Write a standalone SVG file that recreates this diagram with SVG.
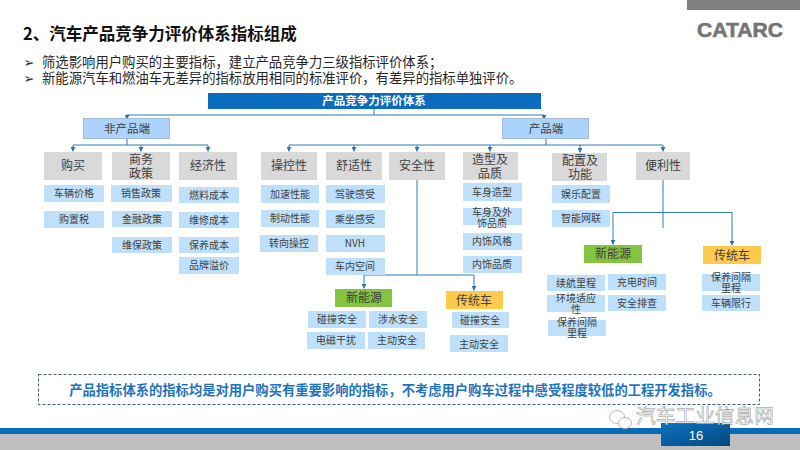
<svg xmlns="http://www.w3.org/2000/svg" width="800" height="450" viewBox="0 0 800 450">
<style>
text{font-family:"Noto Sans CJK SC","Liberation Sans",sans-serif;fill:#404040;text-anchor:middle}
.l1 rect{fill:#acd3fb;stroke:#a3bcd6;stroke-width:1}
.l1 text{font-size:11.5px}
.cat rect{fill:#d9d9d9}
.cat text{font-size:12px}
.c rect{fill:#bfe0fb}
.c text{font-size:10px}
.g rect{fill:#85c441}
.y rect{fill:#ffc94d}
.g text,.y text{font-size:12px}
.tl{text-anchor:start}
.b{font-size:13.35px;fill:#262626}
.bu{font-family:"DejaVu Sans",sans-serif;font-size:13px;fill:#262626}
.cn{fill:none;stroke:#2e7db8;stroke-width:1}
.ar{marker-end:url(#a)}
</style>
<defs>
<marker id="a" markerUnits="userSpaceOnUse" markerWidth="5" markerHeight="4.500" refX="2.500" refY="4.500" orient="0" viewBox="0 0 5 4.500"><path d="M0,0H5L2.500,4.500Z" fill="#2874ad"/></marker>
<linearGradient id="pg" x1="0" y1="0" x2="1" y2="1"><stop offset="0" stop-color="#0b73c0"/><stop offset="1" stop-color="#07477f"/></linearGradient>
</defs>
<rect width="800" height="450" fill="#fff"/>
<rect x="687" y="0" width="113" height="10" fill="#7f7f7f"/>
<text x="740" y="37" textLength="86" lengthAdjust="spacingAndGlyphs" style="font-family:'Liberation Sans',sans-serif;font-weight:700;font-size:21px;fill:#757575;stroke:#757575;stroke-width:0.6">CATARC</text>
<text class="tl" x="23" y="40" style="font-size:16.5px;font-weight:700;fill:#111">2、汽车产品竞争力评价体系指标组成</text>
<text class="bu" x="29" y="67">➢</text>
<text class="tl b" x="42" y="67">筛选影响用户购买的主要指标，建立产品竞争力三级指标评价体系；</text>
<text class="bu" x="29" y="83">➢</text>
<text class="tl b" x="42" y="83">新能源汽车和燃油车无差异的指标放用相同的标准评价，有差异的指标单独评价。</text>

<g id="connectors" class="cn">
<path d="M374,109V115M127,115H544"/>
<path class="ar" d="M127,115V119.500"/><path class="ar" d="M544,115V119.500"/>
<path d="M127,139V145M73,145H208"/>
<path class="ar" d="M73,145V151.500"/><path class="ar" d="M141,145V151.500"/><path class="ar" d="M208,145V151.500"/>
<path d="M546,139V145M289,145H663"/>
<path class="ar" d="M289,145V151.500"/><path class="ar" d="M354,145V151.500"/><path class="ar" d="M417,145V151.500"/><path class="ar" d="M490,145V151.500"/><path class="ar" d="M580,145V152.500"/><path class="ar" d="M663,145V151.500"/>
<path d="M417,180V275M364,275H474"/>
<path class="ar" d="M364,275V288.500"/><path class="ar" d="M474,275V290.500"/>
<path d="M663,180V228M613,212.500H732"/>
<path class="ar" d="M613,212.500V244.500"/><path class="ar" d="M732,212.500V245.500"/>
</g>

<g id="root"><rect x="208" y="93" width="333" height="16" fill="#0a6cbd"/><text x="374" y="105" style="font-size:11.500px;font-weight:700;fill:#fff">产品竞争力评价体系</text></g>
<g id="non-product" class="l1"><rect x="83.500" y="118.500" width="86" height="20"/><text x="127" y="133">非产品端</text></g>
<g id="product" class="l1"><rect x="502.500" y="118.500" width="86" height="20"/><text x="546" y="133">产品端</text></g>

<g id="cat-buy" class="cat"><rect x="44" y="152" width="58" height="28"/><text x="73" y="170">购买</text></g>
<g id="cat-policy" class="cat"><rect x="112" y="152" width="58" height="28"/><text x="141" y="164">商务</text><text x="141" y="177.500">政策</text></g>
<g id="cat-econ" class="cat"><rect x="179" y="152" width="58" height="28"/><text x="208" y="170">经济性</text></g>
<g id="cat-control" class="cat"><rect x="261" y="152" width="56" height="28"/><text x="289" y="170">操控性</text></g>
<g id="cat-comfort" class="cat"><rect x="326" y="152" width="56" height="28"/><text x="354" y="170">舒适性</text></g>
<g id="cat-safety" class="cat"><rect x="389" y="152" width="56" height="28"/><text x="417" y="170">安全性</text></g>
<g id="cat-style" class="cat"><rect x="463" y="152" width="55" height="28"/><text x="490" y="164">造型及</text><text x="490" y="177.500">品质</text></g>
<g id="cat-config" class="cat"><rect x="552" y="153" width="55" height="28"/><text x="580" y="165">配置及</text><text x="580" y="178.500">功能</text></g>
<g id="cat-conv" class="cat"><rect x="636" y="152" width="54" height="28"/><text x="663" y="170">便利性</text></g>

<g id="c1" class="c"><rect x="44" y="185" width="60" height="17"/><text x="74" y="197">车辆价格</text></g>
<g id="c2" class="c"><rect x="44" y="211" width="60" height="17"/><text x="74" y="223">购置税</text></g>
<g id="c3" class="c"><rect x="111" y="185" width="61" height="17"/><text x="141" y="197">销售政策</text></g>
<g id="c4" class="c"><rect x="112" y="211" width="60" height="16"/><text x="142" y="223">金融政策</text></g>
<g id="c5" class="c"><rect x="112" y="237" width="60" height="16"/><text x="142" y="249">维保政策</text></g>
<g id="c6" class="c"><rect x="179" y="187" width="60" height="16"/><text x="209" y="199">燃料成本</text></g>
<g id="c7" class="c"><rect x="179" y="212" width="60" height="16"/><text x="209" y="224">维修成本</text></g>
<g id="c8" class="c"><rect x="179" y="237" width="60" height="16"/><text x="209" y="249">保养成本</text></g>
<g id="c9" class="c"><rect x="179" y="257" width="60" height="17"/><text x="209" y="269">品牌溢价</text></g>
<g id="c10" class="c"><rect x="261" y="185" width="58" height="18"/><text x="290" y="198">加速性能</text></g>
<g id="c11" class="c"><rect x="261" y="210" width="58" height="17"/><text x="290" y="222">制动性能</text></g>
<g id="c12" class="c"><rect x="260" y="235" width="58" height="17"/><text x="289" y="247">转向操控</text></g>
<g id="c13" class="c"><rect x="326" y="185" width="59" height="18"/><text x="355" y="198">驾驶感受</text></g>
<g id="c14" class="c"><rect x="326" y="210" width="59" height="18"/><text x="355" y="223">乘坐感受</text></g>
<g id="c15" class="c"><rect x="326" y="235" width="59" height="17"/><text x="355" y="247">NVH</text></g>
<g id="c16" class="c"><rect x="326" y="258" width="59" height="17"/><text x="355" y="270">车内空间</text></g>
<g id="c17" class="c"><rect x="463" y="183" width="59" height="18"/><text x="492" y="196">车身造型</text></g>
<g id="c18" class="c"><rect x="463" y="208" width="59" height="17"/><text x="492" y="216">车身及外</text><text x="492" y="227">饰品质</text></g>
<g id="c19" class="c"><rect x="463" y="233" width="59" height="17"/><text x="492" y="245">内饰风格</text></g>
<g id="c20" class="c"><rect x="463" y="256" width="59" height="17"/><text x="492" y="268">内饰品质</text></g>
<g id="c21" class="c"><rect x="552" y="185" width="58" height="18"/><text x="581" y="198">娱乐配置</text></g>
<g id="c22" class="c"><rect x="552" y="210" width="58" height="17"/><text x="581" y="222">智能网联</text></g>

<g id="ev-safety" class="g"><rect x="335" y="289" width="57" height="18"/><text x="364" y="302">新能源</text></g>
<g id="ice-safety" class="y"><rect x="446" y="291" width="57" height="18"/><text x="474" y="304.500">传统车</text></g>
<g id="c23" class="c"><rect x="308" y="311" width="58" height="17"/><text x="337" y="323">碰撞安全</text></g>
<g id="c24" class="c"><rect x="369" y="311" width="58" height="17"/><text x="398" y="323">涉水安全</text></g>
<g id="c25" class="c"><rect x="307" y="332" width="58" height="17"/><text x="336" y="344">电磁干扰</text></g>
<g id="c26" class="c"><rect x="368" y="332" width="57" height="17"/><text x="397" y="344">主动安全</text></g>
<g id="c27" class="c"><rect x="452" y="312" width="57" height="16"/><text x="480" y="324">碰撞安全</text></g>
<g id="c28" class="c"><rect x="450" y="335" width="58" height="17"/><text x="479" y="348">主动安全</text></g>

<g id="ev-conv" class="g"><rect x="584" y="245" width="58" height="18"/><text x="613" y="258">新能源</text></g>
<g id="ice-conv" class="y"><rect x="703" y="246" width="58" height="18"/><text x="732" y="259.500">传统车</text></g>
<g id="c29" class="c"><rect x="547" y="275" width="58" height="16"/><text x="576" y="287">续航里程</text></g>
<g id="c30" class="c"><rect x="608" y="274" width="58" height="16"/><text x="637" y="286">充电时间</text></g>
<g id="c31" class="c"><rect x="547" y="295" width="58" height="17"/><text x="576" y="302">环境适应</text><text x="576" y="313">性</text></g>
<g id="c32" class="c"><rect x="608" y="295" width="58" height="16"/><text x="637" y="307">安全排查</text></g>
<g id="c33" class="c"><rect x="548" y="320" width="58" height="16"/><text x="577" y="326">保养间隔</text><text x="577" y="337">里程</text></g>
<g id="c34" class="c"><rect x="702" y="274" width="58" height="17"/><text x="731" y="281">保养间隔</text><text x="731" y="292">里程</text></g>
<g id="c35" class="c"><rect x="702" y="295" width="58" height="16"/><text x="731" y="307">车辆限行</text></g>

<g id="note"><rect x="38.500" y="374.500" width="721" height="30" fill="#fff" stroke="#3a5a78" stroke-width="1" stroke-dasharray="3 2"/><text x="395" y="394.500" style="font-size:13.300px;font-weight:700;fill:#1e73be">产品指标体系的指标均是对用户购买有重要影响的指标，不考虑用户购车过程中感受程度较低的工程开发指标。</text></g>

<rect x="0" y="433" width="800" height="17" fill="#bfbfbf"/>
<rect x="0" y="428" width="800" height="6" fill="#0a6cb8"/>
<rect x="661" y="423" width="69" height="23" fill="url(#pg)"/>
<text x="696" y="440" style="font-size:13px;fill:#fff;font-family:'Liberation Sans',sans-serif">16</text>
<g fill="#fff" stroke="#a8a8a8" stroke-width="0.800"><ellipse cx="617" cy="417" rx="7.500" ry="6.500"/><ellipse cx="625" cy="423" rx="6.500" ry="5.500"/></g>
<text x="705" y="423" style="font-size:19.700px;fill:#fff;stroke:#8c8c8c;stroke-width:0.500">汽车工业信息网</text>
</svg>
